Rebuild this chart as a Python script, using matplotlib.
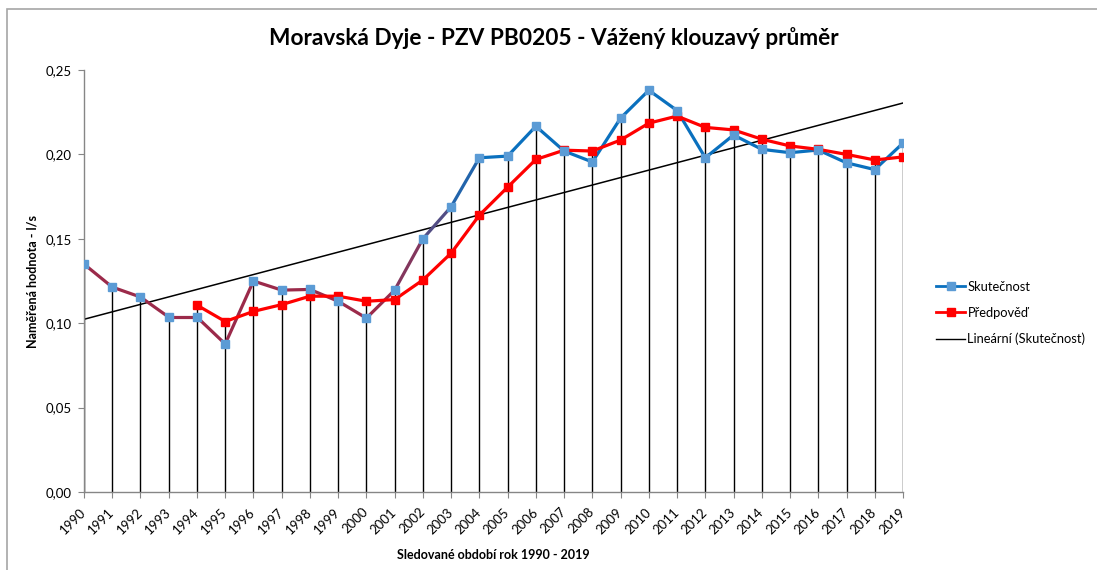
import numpy as np
import matplotlib
matplotlib.use('Agg')
import matplotlib.pyplot as plt
from matplotlib.collections import LineCollection
from matplotlib.lines import Line2D
from matplotlib.patches import Rectangle
from matplotlib.colors import to_rgb

plt.rcParams['font.family'] = ['Lato', 'DejaVu Sans']

years = list(range(1990, 2020))

skutecnost = [0.135, 0.1214, 0.1155, 0.1036, 0.1036, 0.0877, 0.125, 0.1196, 0.120, 0.113,
              0.103, 0.1196, 0.150, 0.169, 0.198, 0.199, 0.2167, 0.202, 0.1955, 0.2215,
              0.238, 0.226, 0.198, 0.2115, 0.203, 0.201, 0.2026, 0.195, 0.191, 0.2067]

predpoved = [np.nan, np.nan, np.nan, np.nan, 0.1107, 0.101, 0.107, 0.111, 0.116, 0.116,
             0.113, 0.114, 0.1256, 0.1415, 0.164, 0.1806, 0.197, 0.2025, 0.202, 0.2085,
             0.2185, 0.2227, 0.216, 0.2145, 0.209, 0.205, 0.203, 0.200, 0.1967, 0.1985]

title = 'Moravská Dyje - PZV PB0205 - Vážený klouzavý průměr'
xlabel = 'Sledované období rok 1990 - 2019'
ylabel = 'Naměřená hodnota - l/s'

x = np.arange(len(years))
skut = np.array(skutecnost)
pred = np.array(predpoved)

fig = plt.figure(figsize=(10.97, 5.70), dpi=100)
ax = fig.add_axes([84/1097, 78/570, 819/1097, 422/570])

# chart area border (only left and top edge fall inside the picture)
fig.patches.append(Rectangle((7/1097, -0.2), 2, 0.2 + 561/570, transform=fig.transFigure,
                             fill=False, edgecolor='#a6a6a6', lw=1.2))

# drop lines
top = np.fmax(skut, pred)
ax.vlines(x, 0, top, color='black', lw=1, zorder=1)

# trend line (linear fit of Skutecnost)
k, q = np.polyfit(x, skut, 1)
ax.plot(x, k * x + q, color='black', lw=1.1, zorder=2)

# Skutecnost line with gradient colour (maroon -> blue)
maroon = np.array(to_rgb('#9b2a4a'))
blue = np.array(to_rgb('#0a70be'))
segs = [[(x[i], skut[i]), (x[i + 1], skut[i + 1])] for i in range(len(x) - 1)]
cols = []
for i in range(len(x) - 1):
    mid = (x[i] + x[i + 1]) / 2
    t = np.clip((mid - 11) / 3.0, 0, 1)
    cols.append(maroon * (1 - t) + blue * t)
ax.add_collection(LineCollection(segs, colors=cols, lw=2.3, zorder=3))
ax.plot(x, skut, ls='none', marker='s', ms=6, color='#5b9bd5', zorder=5)

# Predpoved
ax.plot(x, pred, color='#ff0000', lw=2.3, marker='s', ms=6, zorder=4)

ax.set_xlim(0, len(years) - 1)
ax.set_ylim(0, 0.25)
ax.set_yticks(np.arange(0, 0.2501, 0.05))
ax.set_yticklabels([f'{v:.2f}'.replace('.', ',') for v in np.arange(0, 0.2501, 0.05)])
ax.set_xticks(x)
ax.set_xticklabels([str(y) for y in years], rotation=45, ha='right', va='center',
                   rotation_mode='anchor')

for s in ['top', 'right']:
    ax.spines[s].set_visible(False)
for s in ['left', 'bottom']:
    ax.spines[s].set_color('#868686')
    ax.spines[s].set_linewidth(1)
ax.tick_params(axis='both', colors='#868686', labelcolor='black', labelsize=9.5, length=4)
ax.tick_params(axis='y', pad=5)
ax.tick_params(axis='x', pad=9)

ax.set_ylabel(ylabel, fontsize=9, fontweight='bold', labelpad=5)
ax.set_xlabel(xlabel, fontsize=9, fontweight='bold', labelpad=9)
fig.text(554/1097, 1 - 38/570, title, fontsize=16.3, fontweight='bold',
         ha='center', va='center')

handles = [
    Line2D([], [], color=blue, lw=2, marker='s', ms=6, mfc='#5b9bd5', mec='#5b9bd5'),
    Line2D([], [], color='#ff0000', lw=2, marker='s', ms=6),
    Line2D([], [], color='black', lw=1),
]
labels = ['Skutečnost', 'Předpověď', 'Lineární (Skutečnost)']
fig.legend(handles, labels, loc='center left', bbox_to_anchor=(930/1097, 1 - 313/570),
           frameon=False, fontsize=9.3, handlelength=2.2, handletextpad=0.2,
           labelspacing=1.1, borderpad=0)

fig.savefig('out.png', dpi=100)
